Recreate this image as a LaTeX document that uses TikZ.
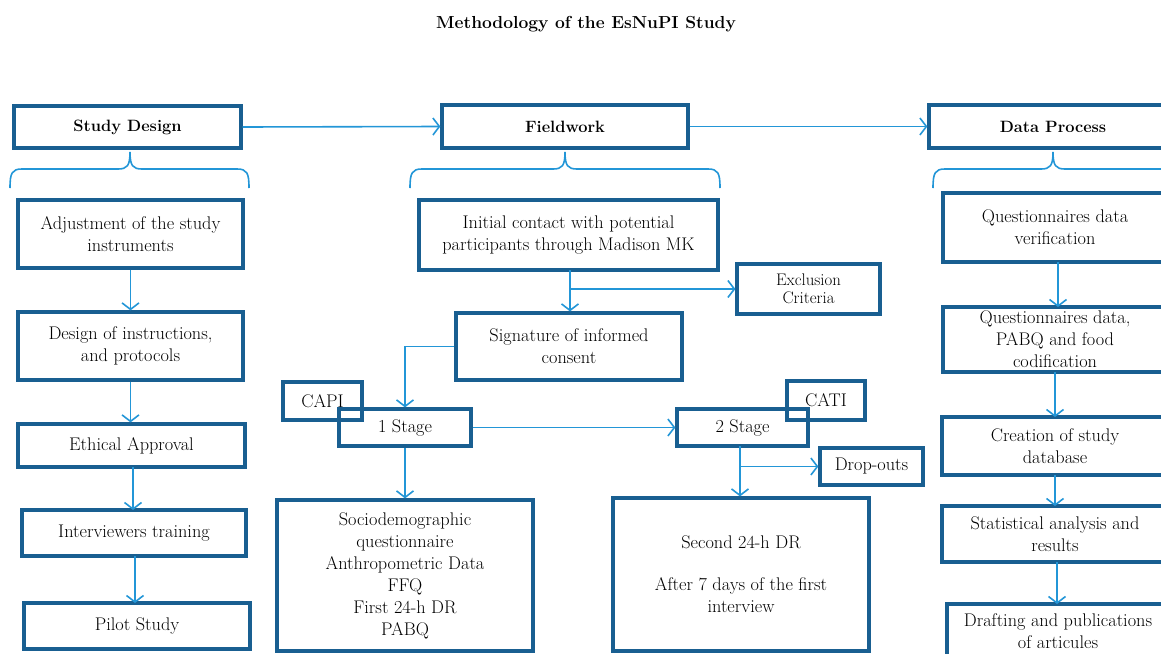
\documentclass[tikz,border=0pt]{standalone}
\usetikzlibrary{arrows.meta}
\definecolor{boxblue}{RGB}{25,95,145}
\definecolor{arrblue}{RGB}{35,150,215}
\tikzset{
  box/.style={draw=boxblue, line width=3.2pt, align=center, inner sep=2pt,
    font=\fontsize{18.3}{22}\selectfont, text=black},
  hbox/.style={box, font=\fontsize{16.4}{22}\selectfont\bfseries},
  arr/.style={draw=arrblue, line width=1.6pt, -{Straight Barb[length=6.5pt,width=17pt,line width=1.6pt]}},
  brc/.style={draw=arrblue, line width=1.6pt}
}
\begin{document}
\begin{tikzpicture}[x=1pt,y=-1pt]
\useasboundingbox (0,0) rectangle (1161,653);
\clip (0,0) rectangle (1161,653);
% title
\node[font=\fontsize{17.4}{20}\selectfont\bfseries] (title) at (586,24) {Methodology of the EsNuPI Study};
% headers
\node[hbox, minimum width=227pt, minimum height=42pt] (sd) at (127.5,127) {Study Design};
\node[hbox, minimum width=246pt, minimum height=43pt] (fw) at (565,126.5) {Fieldwork};
\node[hbox, minimum width=248pt, minimum height=43pt] (dp) at (1053,126.5) {Data Process};
\draw[arr] (sd.east) -- (fw.west);
\draw[arr] (fw.east) -- (dp.west);
% braces
\draw[brc] (10,188) .. controls (10,173) and (12,169) .. (22,169) -- (118,169)
  .. controls (127,169) and (130,166) .. (130,152)
  .. controls (130,166) and (133,169) .. (142,169) -- (237,169)
  .. controls (247,169) and (249,173) .. (249,188);
\draw[brc] (410,188) .. controls (410,173) and (412,169) .. (422,169) -- (553,169)
  .. controls (562,169) and (565,166) .. (565,152)
  .. controls (565,166) and (568,169) .. (577,169) -- (708,169)
  .. controls (718,169) and (720,173) .. (720,188);
\draw[brc] (933,188) .. controls (933,173) and (935,169) .. (945,169) -- (1041,169)
  .. controls (1050,169) and (1053,166) .. (1053,152)
  .. controls (1053,166) and (1056,169) .. (1065,169) -- (1161,169);
% left column
\node[box, minimum width=225pt, minimum height=68pt] (adj) at (130.5,234) {Adjustment of the study\\instruments};
\node[box, minimum width=225pt, minimum height=68pt] (des) at (130.5,346) {Design of instructions,\\and protocols};
\node[box, minimum width=227pt, minimum height=43pt] (eth) at (131.5,445.5) {Ethical Approval};
\node[box, minimum width=224pt, minimum height=46pt] (int) at (134,533) {Interviewers training};
\node[box, minimum width=226pt, minimum height=46pt] (pil) at (137,626) {Pilot Study};
\draw[arr] (adj.south) -- (adj.south |- des.north);
\draw[arr] (des.south) -- (des.south |- eth.north);
\draw[arr] (133,467) -- (133,510);
\draw[arr] (135,556) -- (135,603);
% middle column
\node[box, minimum width=299pt, minimum height=70pt] (ini) at (568.5,235) {Initial contact with potential\\participants through Madison MK};
\node[box, minimum width=143pt, minimum height=50pt, font=\fontsize{16.8}{18.5}\selectfont] (exc) at (808.5,289) {Exclusion\\Criteria};
\node[box, minimum width=226pt, minimum height=67pt] (sig) at (569,346.5) {Signature of informed\\consent};
\node[box, minimum width=79pt, minimum height=38pt] (capi) at (322.5,401) {CAPI};
\node[box, minimum width=132pt, minimum height=37pt] (st1) at (405,427.5) {1 Stage};
\node[box, minimum width=256pt, minimum height=151pt] (soc) at (405,575.5) {Sociodemographic\\questionnaire\\Anthropometric Data\\FFQ\\First 24-h DR\\PABQ};
\node[box, minimum width=131pt, minimum height=37pt] (st2) at (742.5,427.5) {2 Stage};
\node[box, minimum width=78pt, minimum height=39pt] (cati) at (826,400.5) {CATI};
\node[box, minimum width=103pt, minimum height=37pt] (drop) at (871.5,466.5) {Drop-outs};
\node[box, minimum width=256pt, minimum height=153pt] (sec) at (741,574.5) {Second 24-h DR\\[20pt]After 7 days of the first\\interview};
\coordinate (ib) at (570,270);
\draw[arr] (ib) -- (ib |- sig.north);
\draw[arr] (ib |- exc.west) -- (exc.west);
\draw[arr] (sig.west) -| (st1.north);
\draw[arr] (st1.east) -- (st2.west);
\draw[arr] (st1.south) -- (st1.south |- soc.north);
\coordinate (sb) at (740,446);
\draw[arr] (sb) -- (sb |- sec.north);
\draw[arr] (sb |- drop.west) -- (drop.west);
% right column
\node[box, minimum width=224pt, minimum height=69pt] (qv) at (1055,227.5) {Questionnaires data\\verification};
\node[box, minimum width=224pt, minimum height=65pt, inner sep=0pt] (qc) at (1055,339.5) {Questionnaires data,\\PABQ and food\\codification};
\node[box, minimum width=226pt, minimum height=58pt] (cr) at (1055,446) {Creation of study\\database};
\node[box, minimum width=226pt, minimum height=56pt] (st) at (1055,534) {Statistical analysis and\\results};
\node[box, minimum width=222pt, minimum height=54pt] (dr) at (1058,631) {Drafting and publications\\of articules};
\draw[arr] (1058,262) -- (1058,307);
\draw[arr] (1055,372) -- (1055,417);
\draw[arr] (1055,475) -- (1055,506);
\draw[arr] (1057,562) -- (1057,604);
\end{tikzpicture}
\end{document}
